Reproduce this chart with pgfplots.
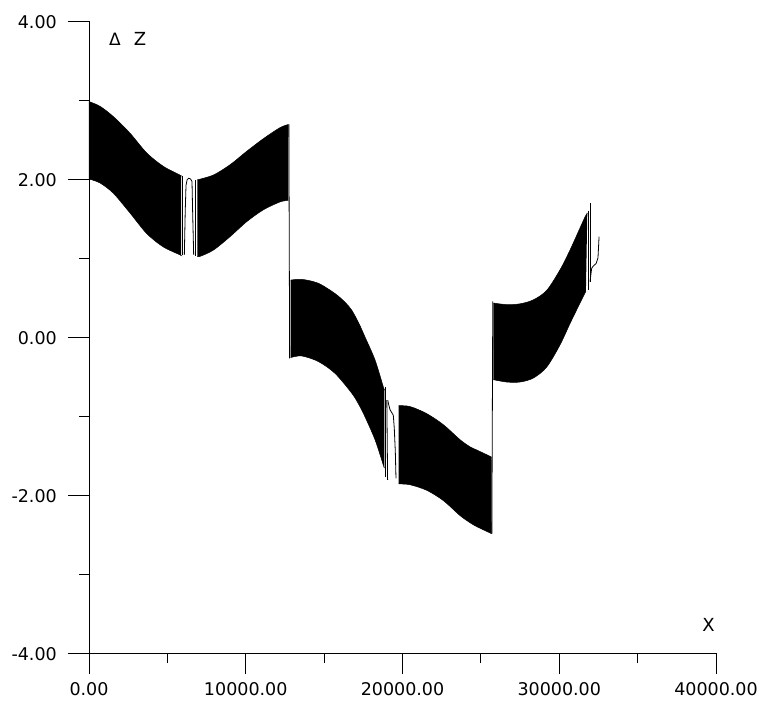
\documentclass[border=0pt]{standalone}
\usepackage{fontspec}
\setmainfont{DejaVu Sans}
\usepackage{pgfplots}
\pgfplotsset{compat=1.18}
\usepgfplotslibrary{fillbetween}
\begin{document}
\begin{tikzpicture}
\begin{axis}[
  scale only axis, width=627pt, height=632pt,
  at={(0pt,0pt)}, anchor=south west,
  xmin=0, xmax=40000, ymin=-4, ymax=4,
  axis lines=left, axis line style={-, black, line width=0.9pt},
  xtick={0,10000,20000,30000,40000},
  xticklabels={0.00,10000.00,20000.00,30000.00,40000.00},
  minor xtick={5000,15000,25000,35000},
  ytick={-4,-2,0,2,4},
  yticklabels={-4.00,-2.00,0.00,2.00,4.00},
  minor ytick={-3,-1,1,3},
  tick align=outside,
  major tick length=21pt, minor tick length=10pt,
  every tick/.style={black, line width=0.9pt},
  xticklabel style={font=\fontsize{17.5}{20}\selectfont, anchor=center, inner sep=0pt, yshift=-15pt},
  yticklabel style={font=\fontsize{17.5}{20}\selectfont, anchor=east, inner sep=0pt, xshift=-11pt, yshift=-1.5pt},
  clip=false,
  env/.style={black, line width=0.5pt, smooth, tension=0.5},
]
% segment 1a
\addplot[env, name path=u1] coordinates {(0,2.98) (702,2.92) (1553,2.79) (2616,2.58) (3680,2.33) (4742,2.16) (5806,2.05) (5870,2.04)};
\addplot[env, name path=l1] coordinates {(0,2.00) (702,1.95) (1553,1.82) (2616,1.57) (3680,1.31) (4742,1.14) (5806,1.04) (5870,1.03)};
\addplot[black] fill between[of=u1 and l1];
% gap 1
\addplot[black, line width=0.8pt] coordinates {(5930,2.04) (5930,1.04)};
\addplot[black, line width=0.8pt] coordinates {(6082,1.04) (6140,1.60) (6189,1.92) (6260,1.99) (6359,2.01) (6480,2.00) (6571,1.97) (6610,1.60) (6678,1.04)};
\addplot[black, line width=0.8pt] coordinates {(6780,1.99) (6780,1.02)};
% segment 1b
\addplot[env, name path=u2] coordinates {(6912,1.99) (7933,2.05) (8996,2.18) (10060,2.35) (11121,2.51) (12186,2.65) (12716,2.69)};
\addplot[env, name path=l2] coordinates {(6912,1.02) (7082,1.02) (7933,1.10) (8996,1.27) (10060,1.46) (11121,1.61) (12186,1.71) (12716,1.73)};
\addplot[black] fill between[of=u2 and l2];
\addplot[black, line width=0.8pt] coordinates {(12750,2.69) (12800,-0.27)};
% segment 2
\addplot[env, name path=u3] coordinates {(12868,0.72) (13570,0.73) (14629,0.68) (15694,0.55) (16333,0.44) (16759,0.34) (17200,0.18) (17608,0.00) (18246,-0.29) (18775,-0.63) (18839,-0.66)};
\addplot[env, name path=l3] coordinates {(12868,-0.26) (13570,-0.24) (14629,-0.31) (15694,-0.46) (16759,-0.71) (17200,-0.85) (17608,-1.01) (18246,-1.30) (18775,-1.62) (18839,-1.66)};
\addplot[black] fill between[of=u3 and l3];
% gap 2
\addplot[black, line width=0.8pt] coordinates {(18890,-0.63) (18890,-1.77)};
\addplot[black, line width=0.8pt] coordinates {(19000,-0.80) (19050,-1.81)};
\addplot[black, line width=0.8pt] coordinates {(19060,-0.80) (19114,-0.85) (19203,-0.92) (19413,-0.99) (19477,-1.16) (19541,-1.45) (19585,-1.79)};
% segment 3
\addplot[env, name path=u4] coordinates {(19758,-0.87) (20479,-0.88) (21544,-0.97) (22603,-1.11) (23669,-1.30) (24306,-1.39) (24734,-1.43) (25582,-1.51) (25678,-1.52)};
\addplot[env, name path=l4] coordinates {(19758,-1.86) (20479,-1.87) (21544,-1.94) (22603,-2.07) (23669,-2.26) (24306,-2.35) (24734,-2.40) (25582,-2.48) (25678,-2.49)};
\addplot[black] fill between[of=u4 and l4];
\addplot[black, line width=0.8pt] coordinates {(25700,-2.49) (25760,0.45)};
% segment 4
\addplot[env, name path=u5] coordinates {(25793,0.43) (26648,0.41) (27496,0.42) (28345,0.47) (29200,0.59) (30048,0.85) (30686,1.10) (31324,1.38) (31643,1.52) (31790,1.57)};
\addplot[env, name path=l5] coordinates {(25793,-0.54) (26648,-0.57) (27496,-0.57) (28345,-0.52) (29200,-0.38) (30048,-0.10) (30686,0.17) (31324,0.43) (31700,0.58)};
\addplot[black] fill between[of=u5 and l5];
% end lines
\addplot[black, line width=0.8pt] coordinates {(31830,1.60) (31830,0.60)};
\addplot[black, line width=0.8pt] coordinates {(31962,1.69) (31962,0.70)};
\addplot[black, line width=0.8pt] coordinates {(31962,0.70) (32069,0.87) (32180,0.90) (32350,0.93) (32470,1.00) (32540,1.27)};
% labels
\node[font=\fontsize{17}{18}\selectfont, inner sep=0pt] at (axis cs:1659,3.77) {Δ};
\node[font=\fontsize{18}{20}\selectfont, inner sep=0pt] at (axis cs:3254,3.77) {Z};
\node[font=\fontsize{18}{20}\selectfont, inner sep=0pt] at (axis cs:39522,-3.646) {X};
\end{axis}
\pgfresetboundingbox
\path[use as bounding box] (-89pt,-54pt) rectangle (673pt,653pt);
\end{tikzpicture}
\end{document}
